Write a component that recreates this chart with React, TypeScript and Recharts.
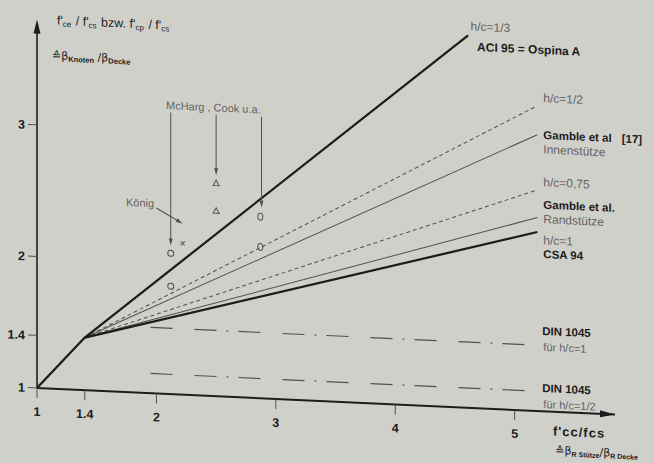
import React from 'react';
import { ComposedChart, Line, Scatter, XAxis, YAxis, ReferenceDot, ReferenceLine } from 'recharts';

// axis ticks
const xTicks = [1, 1.4, 2, 3, 4, 5];
const yTicks = [1, 1.4, 2, 3];

// design lines (f'ce/f'cs over f'cc/fcs)
const baseLine = [{ x: 1, y: 1 }, { x: 1.4, y: 1.4 }];
const aciLine = [{ x: 1.4, y: 1.4 }, { x: 4.61, y: 3.83 }];
const hc12Line = [{ x: 1.4, y: 1.4 }, { x: 5.17, y: 3.31 }];
const gambleInnerLine = [{ x: 1.4, y: 1.4 }, { x: 5.19, y: 3.1 }];
const hc075Line = [{ x: 1.4, y: 1.4 }, { x: 5.19, y: 2.68 }];
const gambleEdgeLine = [{ x: 1.4, y: 1.4 }, { x: 5.19, y: 2.47 }];
const csaLine = [{ x: 1.4, y: 1.4 }, { x: 5.19, y: 2.36 }];
const dinHc1 = [{ x: 1.95, y: 1.5 }, { x: 5.1, y: 1.5 }];
const dinHc12 = [{ x: 1.95, y: 1.15 }, { x: 5.1, y: 1.15 }];

// test results
const circlePts = [{ x: 2.12, y: 2.07 }, { x: 2.12, y: 1.82 }];
const crossPts = [{ x: 2.22, y: 2.15 }];
const trianglePts = [{ x: 2.5, y: 2.62 }, { x: 2.5, y: 2.41 }];
const ovalPts = [{ x: 2.87, y: 2.38 }, { x: 2.87, y: 2.15 }];

// pointer arrows
const mcHargArrows = [
  { x: 2.12, from: 3.14, to: 2.13 },
  { x: 2.5, from: 3.14, to: 2.68 },
  { x: 2.88, from: 3.14, to: 2.45 },
];
const koenigArrow = [{ x: 2.0, y: 2.41 }, { x: 2.22, y: 2.3 }];

const INK = '#1c1c1c';
const GREY = '#505050';
const LIGHT = '#626262';

const arrowShape = (p: any) => {
  const { x1, y1, x2, y2 } = p;
  const a = Math.atan2(y2 - y1, x2 - x1);
  const len = 7;
  const half = 2;
  const bx = x2 - len * Math.cos(a);
  const by = y2 - len * Math.sin(a);
  const pts = `${x2},${y2} ${bx - half * Math.sin(a)},${by + half * Math.cos(a)} ${bx + half * Math.sin(a)},${by - half * Math.cos(a)}`;
  return (
    <g>
      <line x1={x1} y1={y1} x2={bx} y2={by} stroke={GREY} strokeWidth={1} />
      <polygon points={pts} fill={GREY} />
    </g>
  );
};

const circleShape = (p: any) => <circle cx={p.cx} cy={p.cy} r={3} fill="none" stroke={GREY} strokeWidth={1} />;
const crossShape = (p: any) => (
  <path d={`M${p.cx - 2},${p.cy - 2}L${p.cx + 2},${p.cy + 2}M${p.cx - 2},${p.cy + 2}L${p.cx + 2},${p.cy - 2}`} stroke={GREY} strokeWidth={1} />
);
const triangleShape = (p: any) => (
  <path d={`M${p.cx},${p.cy - 3}L${p.cx + 3},${p.cy + 2.5}L${p.cx - 3},${p.cy + 2.5}Z`} fill="none" stroke={GREY} strokeWidth={1} />
);
const ovalShape = (p: any) => <ellipse cx={p.cx} cy={p.cy} rx={2.5} ry={3.5} fill="none" stroke={GREY} strokeWidth={1} />;

function label(key: string, x: number, y: number, content: React.ReactNode, opts: any = {}) {
  const { bold = false, size = 12, fill = bold ? INK : LIGHT, spacing = 0 } = opts;
  return (
    <ReferenceDot
      key={key}
      x={x}
      y={y}
      r={0}
      ifOverflow="visible"
      shape={(p: any) => (
        <text
          x={p.cx}
          y={p.cy}
          dominantBaseline="central"
          fontSize={size}
          fontWeight={bold ? 'bold' : 'normal'}
          fill={fill}
          letterSpacing={spacing}
        >
          {content}
        </text>
      )}
    />
  );
}

const sub = (s: string, size = 8) => [
  <tspan key="a" dy={3} fontSize={size}>{s}</tspan>,
  <tspan key="b" dy={-3}>{'\u200a'}</tspan>,
];

const DIN_DASH = '22 22 22 10 2 10';

export default function App() {
  return (
    <div style={{ position: 'absolute', left: 0, top: 0, width: 654, height: 463, background: '#d0d0cb', overflow: 'hidden', fontFamily: '"Liberation Sans", Arial, sans-serif' }}>
      {/* the scanned figure is slightly sheared: x axis drops to the right */}
      <div style={{ position: 'absolute', left: 0, top: -12, width: 654, height: 475, transform: 'skewY(2.63deg)', transformOrigin: '37px 400px' }}>
        <ComposedChart width={654} height={475} margin={{ top: 25, right: 39, bottom: 45, left: 0 }}>
          <XAxis
            type="number"
            dataKey="x"
            domain={[1, 5.84]}
            ticks={xTicks}
            allowDataOverflow
            axisLine={{ stroke: INK, strokeWidth: 2 }}
            tickLine={{ stroke: GREY }}
            tickSize={10}
            tickMargin={9}
            height={30}
            tick={{ fontSize: 12.5, fontWeight: 'bold', fill: INK }}
          />
          <YAxis
            type="number"
            domain={[1, 3.85]}
            ticks={yTicks}
            allowDataOverflow
            axisLine={false}
            tickLine={{ stroke: GREY }}
            tickSize={9}
            tickMargin={3}
            width={37}
            tick={{ fontSize: 12.5, fontWeight: 'bold', fill: INK }}
          />

          <ReferenceLine segment={[{ x: 1, y: 1 }, { x: 1, y: 3.75 }]} stroke={INK} strokeWidth={1.6} ifOverflow="visible" />
          <ReferenceDot x={1} y={3.8} r={0} ifOverflow="visible"
            shape={(p: any) => <polygon points={`${p.cx},${p.cy} ${p.cx - 3.5},${p.cy + 14} ${p.cx + 3.5},${p.cy + 14}`} fill={INK} />} />
          <ReferenceDot x={5.84} y={1} r={0} ifOverflow="visible"
            shape={(p: any) => <polygon points={`${p.cx},${p.cy} ${p.cx - 15},${p.cy - 3.5} ${p.cx - 15},${p.cy + 3.5}`} fill={INK} />} />

          <Line data={dinHc1} dataKey="y" stroke={GREY} strokeWidth={1.2} strokeDasharray={DIN_DASH} dot={false} isAnimationActive={false} />
          <Line data={dinHc12} dataKey="y" stroke={GREY} strokeWidth={1.2} strokeDasharray={DIN_DASH} dot={false} isAnimationActive={false} />

          <Line data={hc12Line} dataKey="y" stroke={GREY} strokeWidth={1} strokeDasharray="4 3" dot={false} isAnimationActive={false} />
          <Line data={hc075Line} dataKey="y" stroke={GREY} strokeWidth={1} strokeDasharray="4 3" dot={false} isAnimationActive={false} />
          <Line data={gambleInnerLine} dataKey="y" stroke={GREY} strokeWidth={1} dot={false} isAnimationActive={false} />
          <Line data={gambleEdgeLine} dataKey="y" stroke={GREY} strokeWidth={1} dot={false} isAnimationActive={false} />
          <Line data={csaLine} dataKey="y" stroke={INK} strokeWidth={2.2} dot={false} isAnimationActive={false} />
          <Line data={aciLine} dataKey="y" stroke={INK} strokeWidth={2.2} dot={false} isAnimationActive={false} />
          <Line data={baseLine} dataKey="y" stroke={INK} strokeWidth={2.2} dot={false} isAnimationActive={false} />

          <Scatter data={circlePts} dataKey="y" shape={circleShape} isAnimationActive={false} />
          <Scatter data={crossPts} dataKey="y" shape={crossShape} isAnimationActive={false} />
          <Scatter data={trianglePts} dataKey="y" shape={triangleShape} isAnimationActive={false} />
          <Scatter data={ovalPts} dataKey="y" shape={ovalShape} isAnimationActive={false} />

          {mcHargArrows.map((a, i) => (
            <ReferenceLine key={'arr' + i} segment={[{ x: a.x, y: a.from }, { x: a.x, y: a.to }]} ifOverflow="visible" shape={arrowShape} />
          ))}
          <ReferenceLine segment={koenigArrow} ifOverflow="visible" shape={arrowShape} />

          {label('yt1', 1.167, 3.8, [
            "f'", ...sub('ce'), " / f'", ...sub('cs'), " bzw. f'", ...sub('cp'), " / f'", ...sub('cs'),
          ].map((c, i) => (typeof c === 'string' ? <tspan key={i}>{c}</tspan> : React.cloneElement(c as any, { key: i }))), { size: 12.5, fill: INK })}
          {label('yt2', 1.126, 3.536, [
            <tspan key="0" fontFamily="DejaVu Sans">{'\u2259\u03b2'}</tspan>,
            <tspan key="1" dy={3} fontSize={7.5} fontWeight="bold">Knoten</tspan>,
            <tspan key="2" dy={-3} fontFamily="DejaVu Sans"> /{'\u03b2'}</tspan>,
            <tspan key="3" dy={3} fontSize={7.5} fontWeight="bold">Decke</tspan>,
          ], { size: 11, fill: INK })}

          {label('mc', 2.08, 3.195, 'McHarg , Cook u.a.', { size: 11 })}
          {label('kg', 1.745, 2.445, 'König', { size: 11 })}

          {label('l1a', 4.63, 3.9, 'h/c=1/3')}
          {label('l1b', 4.685, 3.745, 'ACI 95 = Ospina A', { bold: true })}
          {label('l2', 5.24, 3.38, 'h/c=1/2')}
          {label('l3a', 5.24, 3.1, [<tspan key="a">Gamble et al</tspan>, <tspan key="b" dx={10}>[17]</tspan>], { bold: true, size: 11.5 })}
          {label('l3b', 5.24, 2.99, 'Innenstütze')}
          {label('l4', 5.24, 2.74, 'h/c=0,75')}
          {label('l5a', 5.24, 2.57, 'Gamble et al.', { bold: true, size: 11.5 })}
          {label('l5b', 5.24, 2.46, 'Randstütze')}
          {label('l6a', 5.24, 2.3, 'h/c=1')}
          {label('l6b', 5.24, 2.195, 'CSA 94', { bold: true, size: 11.5 })}
          {label('d1a', 5.23, 1.61, 'DIN 1045', { bold: true, size: 11.5 })}
          {label('d1b', 5.24, 1.49, 'für h/c=1', { size: 11 })}
          {label('d2a', 5.23, 1.176, 'DIN 1045', { bold: true, size: 11.5 })}
          {label('d2b', 5.24, 1.055, 'für h/c=1/2', { size: 11 })}

          {label('xt1', 5.32, 0.853, "f'cc/fcs", { bold: true, size: 13, spacing: 1 })}
          {label('xt2', 5.34, 0.71, [
            <tspan key="0" fontFamily="DejaVu Sans">{'\u2259\u03b2'}</tspan>,
            <tspan key="1" dy={3} fontSize={7} fontWeight="bold">R Stütze</tspan>,
            <tspan key="2" dy={-3} fontFamily="DejaVu Sans">/{'\u03b2'}</tspan>,
            <tspan key="3" dy={3} fontSize={7} fontWeight="bold">R Decke</tspan>,
          ], { size: 11, fill: INK })}
        </ComposedChart>
      </div>
    </div>
  );
}
